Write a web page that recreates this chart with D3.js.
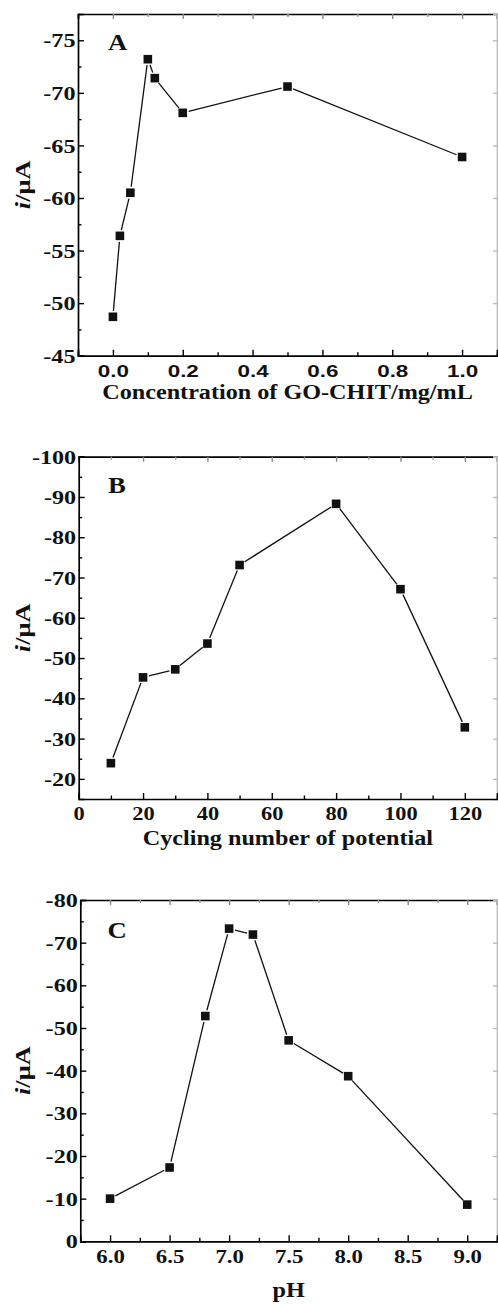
<!DOCTYPE html>
<html><head><meta charset="utf-8">
<script src="https://cdn.jsdelivr.net/npm/d3@7"></script>
<style>body{margin:0;background:#fff}svg{display:block}</style></head>
<body>
<svg id="c" width="498" height="1305"></svg>
<script>
// ---------- data ----------
const concA    = [0, 0.02, 0.05, 0.1, 0.12, 0.2, 0.5, 1.0];
const currentA = [-48.7, -56.4, -60.5, -73.2, -71.4, -68.1, -70.6, -63.9];
const cyclesB  = [10, 20, 30, 40, 50, 80, 100, 120];
const currentB = [-23.9, -45.2, -47.2, -53.6, -73.1, -88.3, -67.1, -32.8];
const phC      = [6.0, 6.5, 6.8, 7.0, 7.2, 7.5, 8.0, 9.0];
const currentC = [-10.0, -17.3, -52.8, -73.3, -71.9, -47.1, -38.7, -8.6];

const xTicksA = [0, 0.2, 0.4, 0.6, 0.8, 1.0];
const yTicksA = [-45, -50, -55, -60, -65, -70, -75];
const xTicksB = [0, 20, 40, 60, 80, 100, 120];
const yTicksB = [-20, -30, -40, -50, -60, -70, -80, -90, -100];
const xTicksC = [6.0, 6.5, 7.0, 7.5, 8.0, 8.5, 9.0];
const yTicksC = [0, -10, -20, -30, -40, -50, -60, -70, -80];

const xTitles = ["Concentration of GO-CHIT/mg/mL", "Cycling number of potential", "pH"];
const panelLetters = ["A", "B", "C"];

// ---------- layout ----------
const SERIF = "'Liberation Serif','Times New Roman',serif";
const SANS = "'Liberation Sans',Arial,sans-serif";
const svg = d3.select("#c");
const loc = d3.formatLocale({decimal: ".", thousands: ",", grouping: [3], currency: ["", ""], minus: "-"});

const panels = [
  {x: concA, y: currentA, xt: xTicksA, yt: yTicksA, xd: [-0.1, 1.1], yd: [-45, -77.5],
   xminor: d3.range(-1, 12, 2).map(v => v / 10), yminor: d3.range(-47.5, -78, -5),
   L: 78, R: 497, T: 14, B: 355.7, xfmt: loc.format(".1f"), xfont: SANS, xfs: 17, xsx: 1.32,
   yfmt: loc.format("d"), titleY: 399, letter: {x: 108, y: 50}},
  {x: cyclesB, y: currentB, xt: xTicksB, yt: yTicksB, xd: [0, 130], yd: [-15, -100],
   xminor: d3.range(10, 131, 20), yminor: d3.range(-25, -100, -10),
   L: 78.7, R: 497, T: 456.7, B: 799, xfmt: loc.format("d"), xfont: SERIF, xfs: 19, xsx: 1.18,
   yfmt: loc.format("d"), titleY: 845, letter: {x: 108, y: 492.5}},
  {x: phC, y: currentC, xt: xTicksC, yt: yTicksC, xd: [5.75, 9.25], yd: [0, -80],
   xminor: d3.range(6.25, 9.3, 0.5), yminor: d3.range(-5, -80, -10),
   L: 80.3, R: 497, T: 900, B: 1241.3, xfmt: loc.format(".1f"), xfont: SERIF, xfs: 19, xsx: 1.2,
   yfmt: loc.format("d"), titleY: 1296.5, letter: {x: 107.5, y: 937.5}}
];

function styleAxis(g, color) {
  g.selectAll("path.domain").attr("stroke", color || "#000").attr("stroke-width", 1.7);
  g.selectAll(".tick line").attr("stroke", color || "#000").attr("stroke-width", 1.4);
}

panels.forEach((p, i) => {
  const x = d3.scaleLinear().domain(p.xd).range([p.L, p.R]);
  const y = d3.scaleLinear().domain(p.yd).range([p.B, p.T]);
  const g = svg.append("g");

  // top & right frame (inward ticks, no labels)
  const gt = g.append("g").attr("transform", `translate(0,${p.T})`)
    .call(d3.axisTop(x).tickValues(p.xt).tickSize(-5).tickFormat(""));
  styleAxis(gt);
  gt.selectAll(".tick line").attr("stroke", "#888");
  const gtm = g.append("g").attr("transform", `translate(0,${p.T})`)
    .call(d3.axisTop(x).tickValues(p.xminor).tickSize(-3).tickFormat(""));
  styleAxis(gtm); gtm.select("path.domain").remove();
  gtm.selectAll(".tick line").attr("stroke", "#999");
  const gr = g.append("g").attr("transform", `translate(${p.R},0)`)
    .call(d3.axisRight(y).tickValues(p.yt).tickSize(-4).tickFormat(""));
  styleAxis(gr, "#bbb");

  // bottom axis
  const gb = g.append("g").attr("transform", `translate(0,${p.B})`)
    .call(d3.axisBottom(x).tickValues(p.xt).tickSize(-6).tickFormat(p.xfmt));
  styleAxis(gb);
  gb.selectAll("text").attr("y", 21.5).attr("dy", 0).attr("x", 0)
    .attr("font-family", p.xfont).attr("font-weight", "bold").attr("font-size", p.xfs)
    .attr("fill", "#111").attr("transform", `scale(${p.xsx},1)`);
  const gbm = g.append("g").attr("transform", `translate(0,${p.B})`)
    .call(d3.axisBottom(x).tickValues(p.xminor).tickSize(-3.5).tickFormat(""));
  styleAxis(gbm); gbm.select("path.domain").remove();

  // left axis
  const gl = g.append("g").attr("transform", `translate(${p.L},0)`)
    .call(d3.axisLeft(y).tickValues(p.yt).tickSize(-6).tickFormat(p.yfmt));
  styleAxis(gl);
  gl.selectAll("text").attr("x", 0).attr("dy", "0.34em")
    .attr("font-family", SERIF).attr("font-weight", "bold").attr("font-size", 19.5)
    .attr("fill", "#111").attr("text-anchor", "end")
    .attr("transform", "translate(-2.5,0) scale(1.24,1)");
  const glm = g.append("g").attr("transform", `translate(${p.L},0)`)
    .call(d3.axisLeft(y).tickValues(p.yminor).tickSize(-3.5).tickFormat(""));
  styleAxis(glm); glm.select("path.domain").remove();

  // line with gaps at markers
  const pts = p.x.map((v, k) => [x(v), y(p.y[k])]);
  const gap = 6;
  const segs = d3.pairs(pts).map(([a, b]) => {
    const dx = b[0] - a[0], dy = b[1] - a[1], len = Math.hypot(dx, dy);
    const ux = dx / len, uy = dy / len;
    return {x1: a[0] + ux * gap, y1: a[1] + uy * gap, x2: b[0] - ux * gap, y2: b[1] - uy * gap, len};
  }).filter(s => s.len > 2 * gap);
  g.append("g").selectAll("line").data(segs).join("line")
    .attr("x1", d => d.x1).attr("y1", d => d.y1).attr("x2", d => d.x2).attr("y2", d => d.y2)
    .attr("stroke", "#111").attr("stroke-width", 1.3);

  const s = 8.6;
  g.append("g").selectAll("rect").data(pts).join("rect")
    .attr("x", d => d[0] - s / 2).attr("y", d => d[1] - s / 2)
    .attr("width", s).attr("height", s).attr("fill", "#111");

  // panel letter
  g.append("text").attr("transform", `translate(${p.letter.x},${p.letter.y}) scale(1.16,1)`)
    .attr("font-family", SERIF).attr("font-weight", "bold").attr("font-size", 23)
    .attr("fill", "#111").text(panelLetters[i]);

  // x title
  g.append("text").attr("transform", `translate(${(p.L + p.R) / 2},${p.titleY}) scale(1.18,1)`)
    .attr("text-anchor", "middle").attr("font-family", SERIF).attr("font-weight", "bold")
    .attr("font-size", 20.5).attr("fill", "#111").text(xTitles[i]);

  // y title
  const yt = g.append("text")
    .attr("transform", `translate(30,${(p.T + p.B) / 2}) rotate(-90) scale(1.2,1)`)
    .attr("text-anchor", "middle").attr("font-family", SERIF).attr("font-weight", "bold")
    .attr("font-size", 22).attr("fill", "#111");
  yt.append("tspan").attr("font-style", "italic").text("i");
  yt.append("tspan").text("/μA");
});
</script>
</body></html>
